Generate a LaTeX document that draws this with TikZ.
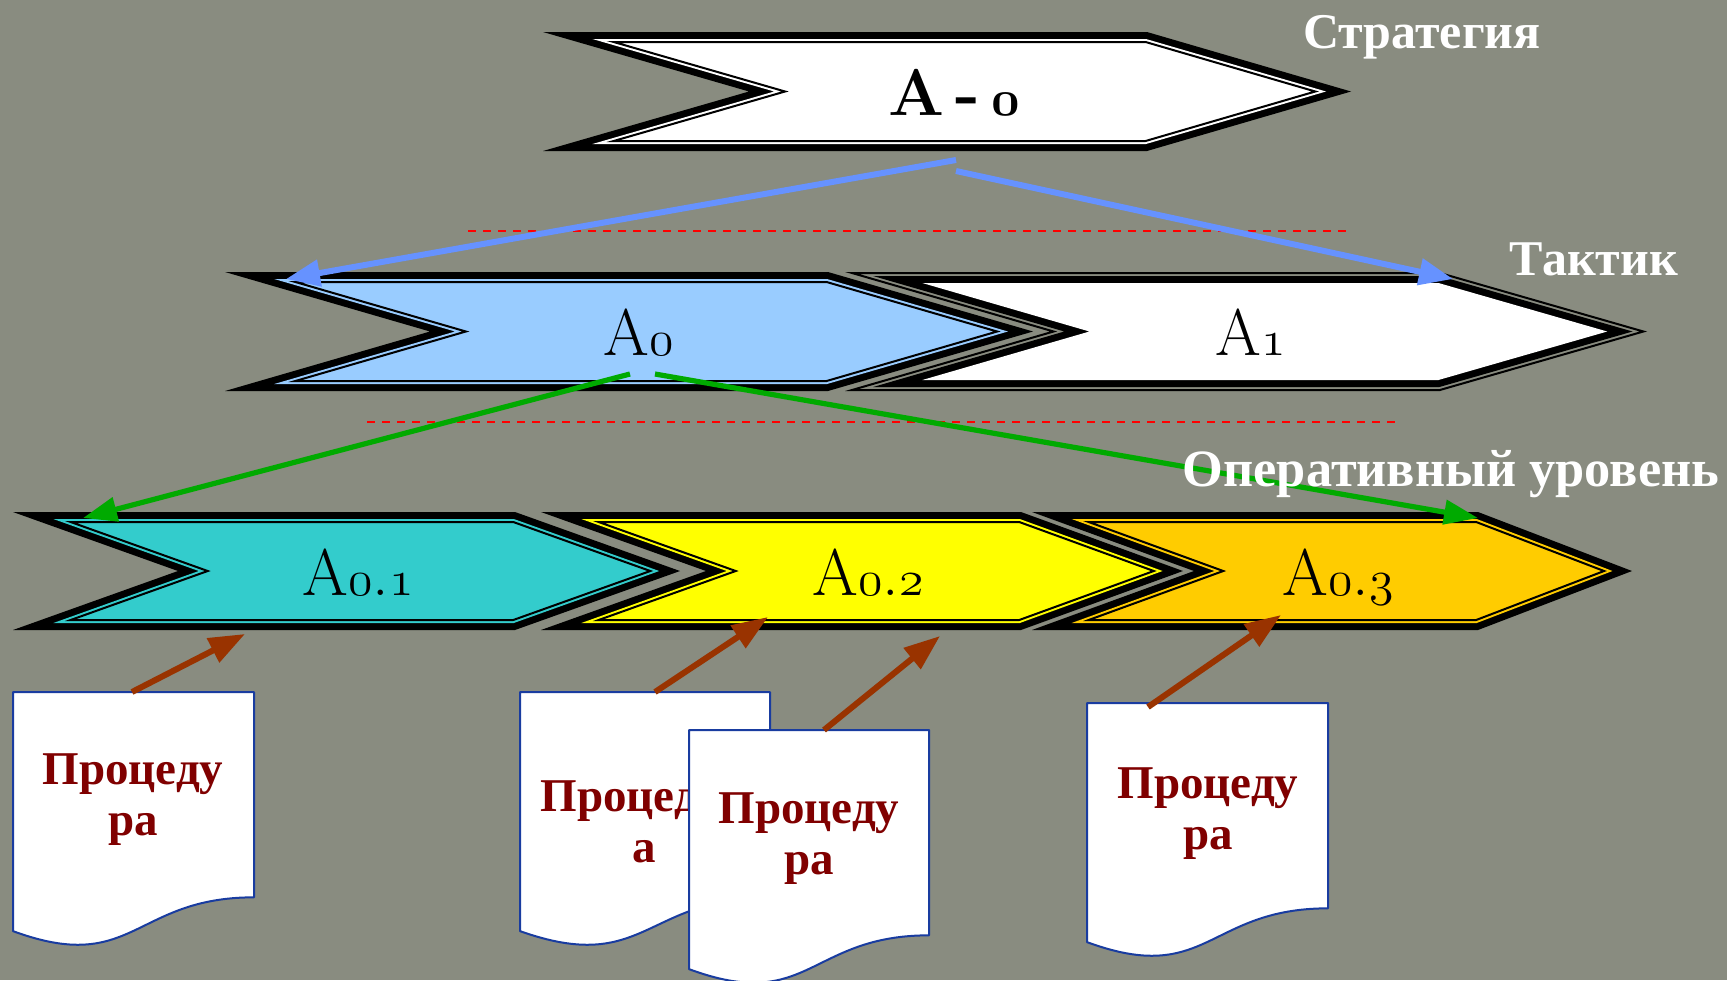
\documentclass[tikz,border=0pt]{standalone}
\usepackage{fontspec}
\setmainfont{Liberation Serif}
\newfontfamily\lmfont{Latin Modern Roman}
\usetikzlibrary{arrows.meta}
\definecolor{bg}{RGB}{137,140,128}
\definecolor{lblue}{RGB}{153,204,255}
\definecolor{ccyan}{RGB}{51,204,204}
\definecolor{cyel}{RGB}{255,255,0}
\definecolor{corange}{RGB}{255,204,0}
\definecolor{ablue}{RGB}{102,146,255}
\definecolor{agreen}{RGB}{0,170,0}
\definecolor{abrown}{RGB}{153,51,0}
\definecolor{docblue}{RGB}{25,60,160}
\definecolor{docred}{RGB}{128,0,0}
\newcommand\osn[1]{{\fontsize{37}{40}\usefont{OML}{cmm}{m}{it}#1}}
\newcommand\osnb[1]{{\fontsize{37}{40}\usefont{OML}{cmm}{b}{it}#1}}
% inset chevron computation: xt xn xb xp yt yb delta
\newcommand\chevcalc[7]{%
  \pgfmathsetmacro\cvH{(#6-#5)/2}%
  \pgfmathsetmacro\cvM{(#6+#5)/2}%
  \pgfmathsetmacro\cvRn{(#2-#1)/\cvH}%
  \pgfmathsetmacro\cvRp{(#4-#3)/\cvH}%
  \pgfmathsetmacro\cvSn{#7*sqrt(1+\cvRn*\cvRn)}%
  \pgfmathsetmacro\cvSp{#7*sqrt(1+\cvRp*\cvRp)}%
  \pgfmathsetmacro\cvA{#1+\cvSn+\cvRn*#7}%
  \pgfmathsetmacro\cvB{#2+\cvSn}%
  \pgfmathsetmacro\cvC{#3-\cvSp+\cvRp*#7}%
  \pgfmathsetmacro\cvD{#4-\cvSp}%
  \pgfmathsetmacro\cvT{#5+#7}%
  \pgfmathsetmacro\cvU{#6-#7}%
}
\newcommand\chevpath[8]{%
  \chevcalc{#2}{#3}{#4}{#5}{#6}{#7}{#8}%
  \path[#1] (\cvA,\cvT) -- (\cvC,\cvT) -- (\cvD,\cvM) -- (\cvC,\cvU) -- (\cvA,\cvU) -- (\cvB,\cvM) -- cycle;%
}
% thick-thin border chevron
\newcommand\chevTT[7]{%
  \chevpath{fill=black}{#1}{#2}{#3}{#4}{#5}{#6}{0}%
  \chevpath{fill=#7}{#1}{#2}{#3}{#4}{#5}{#6}{7}%
  \chevpath{draw=black,line width=1pt}{#1}{#2}{#3}{#4}{#5}{#6}{10}%
}
% thin-thick border chevron
\newcommand\chevTk[7]{%
  \chevpath{draw=black,line width=1pt}{#1}{#2}{#3}{#4}{#5}{#6}{1}%
  \chevpath{fill=black}{#1}{#2}{#3}{#4}{#5}{#6}{4}%
  \chevpath{fill=#7}{#1}{#2}{#3}{#4}{#5}{#6}{11}%
}
% document shape: x0 x1 y0 h
\newcommand\docshape[4]{%
  \pgfmathsetmacro\dA{#3+0.802*#4}%
  \pgfmathsetmacro\dB{#3+1.1075*#4}%
  \pgfmathsetmacro\dC{#3+0.934*#4}%
  \pgfmathsetmacro\dM{(#1+#2)/2}%
  \path[docst] (#1,#3) -- (#2,#3) -- (#2,\dA) .. controls (\dM,\dA) and (\dM,\dB) .. (#1,\dC) -- cycle;%
}
\tikzset{
  docst/.style={fill=white,draw=docblue,line width=1pt,line join=round},
  chevlab/.style={font=\lmfont\fontsize{33}{38}\selectfont,inner sep=0pt,anchor=base},
  hdr/.style={text=white,font=\bfseries\fontsize{25}{30}\selectfont,inner sep=0pt,anchor=base},
  dtext/.style={text=docred,font=\bfseries\fontsize{23.5}{25.5}\selectfont,align=center,inner sep=0pt,anchor=north},
  sep/.style={red,line width=1pt,dash pattern=on 4pt off 3.5pt},
  barrow/.style={ablue,line width=3pt,-{Triangle[length=17pt,width=13pt]}},
  garrow/.style={agreen,line width=2.6pt,-{Triangle[length=17pt,width=12pt]}},
  rarrow/.style={abrown,line width=3pt,-{Triangle[length=18pt,width=13pt]}},
}
\begin{document}
\begin{tikzpicture}[x=0.5pt,y=-0.5pt]
\fill[bg] (0,0) rectangle (1727,980);
\useasboundingbox (0,0) rectangle (1727,980);
% separators
\coordinate (s1a) at (468,231); \coordinate (s1b) at (1346,231);
\coordinate (s2a) at (367,422); \coordinate (s2b) at (1397,422);
\draw[sep] (s1a) -- (s1b);
\draw[sep] (s2a) -- (s2b);
% chevrons
\chevTT{543}{749}{1147}{1351}{32}{151}{white}
\chevTk{845}{1050}{1440}{1647}{272}{391}{white}
\chevTT{225}{430}{828}{1033}{272}{391}{lblue}
\chevTT{1032}{1194}{1478}{1632}{512}{630}{corange}
\chevTT{541}{706}{1021}{1183}{512}{630}{cyel}
\chevTT{13}{178}{515}{680}{512}{630}{ccyan}
% chevron labels
\node[chevlab] (a00) at (954,115) {\bfseries A\,-\,\osnb{0}};
\node[chevlab] (a0) at (639,355) {A\osn{0}};
\node[chevlab] (a1) at (1251,355) {A\osn{1}};
\node[chevlab] (a01) at (358,595) {A\osn{0}.\osn{1}};
\node[chevlab] (a02) at (868,595) {A\osn{0}.\osn{2}};
\node[chevlab] (a03) at (1338,595) {A\osn{0}.\osn{3}};
% blue arrows
\coordinate (b1s) at (956,160); \coordinate (b1e) at (286,279);
\coordinate (b2s) at (956,171); \coordinate (b2e) at (1453,279);
\draw[barrow] (b1s) -- (b1e);
\draw[barrow] (b2s) -- (b2e);
% green arrows
\coordinate (g1s) at (630,374); \coordinate (g1e) at (83,518);
\coordinate (g2s) at (655,374); \coordinate (g2e) at (1478,518);
\draw[garrow] (g1s) -- (g1e);
\draw[garrow] (g2s) -- (g2e);
% documents
\docshape{13}{254}{692}{256}
\docshape{520}{770}{692}{256}
\node[dtext] (d2) at (644,780) {Процедур\\а};
\docshape{689}{929}{730}{256}
\docshape{1087}{1328}{703}{256}
\node[dtext] (d1) at (133,753) {Процеду\\ра};
\node[dtext] (d3) at (809,792) {Процеду\\ра};
\node[dtext] (d4) at (1208,767) {Процеду\\ра};
% brown arrows
\coordinate (r1s) at (132,692); \coordinate (r1e) at (245,634);
\coordinate (r2s) at (655,692); \coordinate (r2e) at (768,617);
\coordinate (r3s) at (824,730); \coordinate (r3e) at (940,636);
\coordinate (r4s) at (1148,707); \coordinate (r4e) at (1281,615);
\draw[rarrow] (r1s) -- (r1e);
\draw[rarrow] (r2s) -- (r2e);
\draw[rarrow] (r3s) -- (r3e);
\draw[rarrow] (r4s) -- (r4e);
% headers
\node[hdr] (strat) at (1422,48) {Стратегия};
\node[hdr] (takt) at (1594,275) {Тактик};
\node[hdr,font=\bfseries\fontsize{26.2}{30}\selectfont] (oper) at (1451,486) {Оперативный уровень};
\end{tikzpicture}
\end{document}
